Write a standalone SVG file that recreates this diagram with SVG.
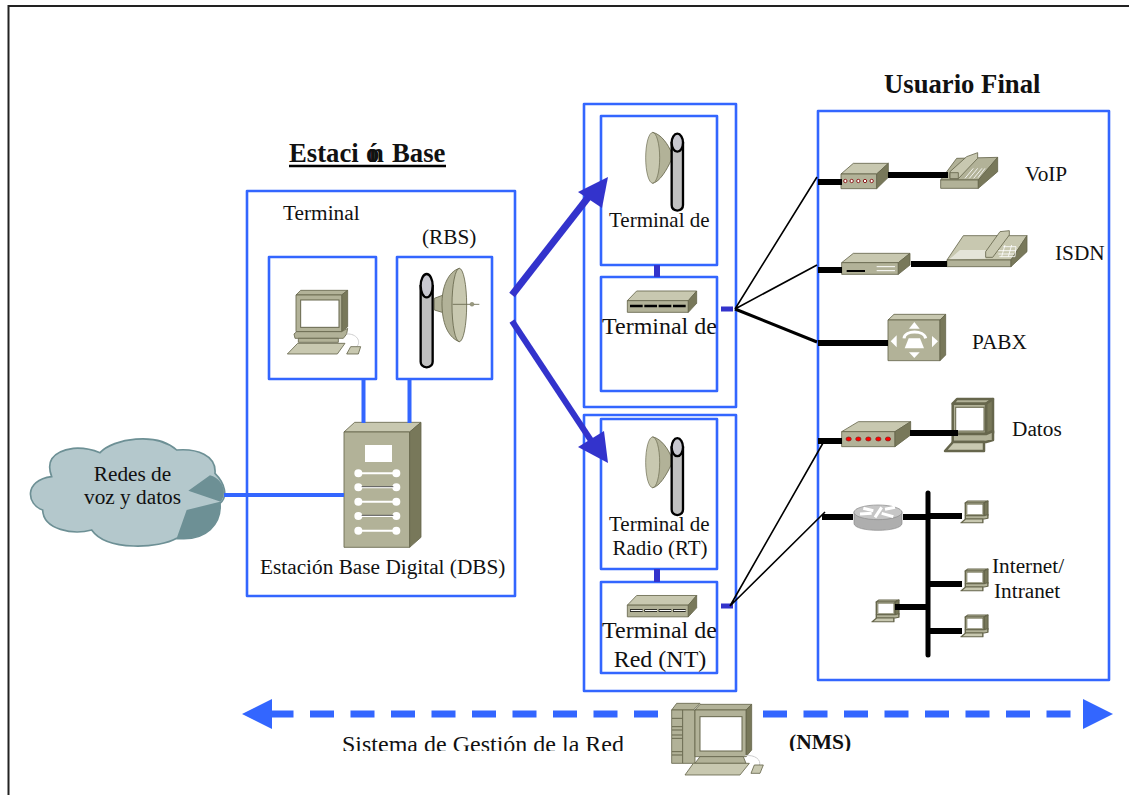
<svg xmlns="http://www.w3.org/2000/svg" xmlns:xlink="http://www.w3.org/1999/xlink" width="1129" height="795" viewBox="0 0 1129 795">
<style>
text{font-family:"Liberation Serif","Times New Roman",serif;fill:#111;font-size:21.3px}
.b{font-weight:bold}
.box{fill:#fff;stroke:#3366ff;stroke-width:2.6;stroke-linejoin:round}
.blue{stroke:#3366ff;stroke-width:4;fill:none}
.ind{fill:#3333cc}
.k{stroke:#000;fill:none}
.lt{fill:#c8c8b0;stroke:#66664c;stroke-width:2.5;stroke-linejoin:round}
.md{fill:#b2b298;stroke:#66664c;stroke-width:2.5;stroke-linejoin:round}
.dk{fill:#78785a;stroke:#66664c;stroke-width:2.5;stroke-linejoin:round}
.wl{stroke:#fff;fill:none}
</style>
<defs>
<clipPath id="clipBottom"><rect x="300" y="725" width="570" height="26"/></clipPath>
<g id="rtAntenna">
<path class="md" d="M428,112 C455,118 475,150 484,172 L484,195 C470,225 450,260 428,265Z"/>
<ellipse cx="428" cy="188.500" rx="21" ry="76" fill="#c8c8b0" stroke="#66664c" stroke-width="2"/>
<path d="M428,113 C437,140 441,165 441,188 L428,188Z" fill="#a8a890" opacity="0"/>
<path d="M485,140 V330 Q485,345 502,347 Q519,345 519,330 V140" fill="#c0c0c0" stroke="#000" stroke-width="7"/>
<ellipse cx="502" cy="143" rx="17" ry="27" fill="#c8c8d0" stroke="#000" stroke-width="7"/>
</g>
<g id="mini">
<polygon class="md" points="7.7,4.7 12,0 48,0 41,4.7"/>
<polygon class="dk" points="41,4.7 48,0 48,34 41,38"/>
<rect class="md" x="7.7" y="4.7" width="33.3" height="30"/>
<rect x="10.7" y="8.3" width="28.300" height="23.700" fill="#fff" stroke="#66664c"/>
<polygon class="md" points="7.7,35 41,35 48,32 48,41 41,43 7.7,43"/>
<polygon class="lt" points="8,43 39,43 39,52 0,52"/>
</g>
</defs>
<rect width="1129" height="795" fill="#fff"/>
<path id="frame" d="M8.500,795 V6 H1129" fill="none" stroke="#222" stroke-width="2"/>

<g id="node-base-station"><rect class="box" x="247" y="191" width="268" height="405"/></g>
<g id="node-rt-group-1"><rect class="box" x="584" y="104" width="152" height="303"/></g>
<g id="node-rt-group-2"><rect class="box" x="584" y="415" width="152" height="276"/></g>
<g id="node-user-box"><rect class="box" x="818" y="111" width="291" height="569"/></g>

<g id="node-terminal"><rect class="box" x="269" y="257" width="107" height="122"/>
<g transform="scale(.33333) translate(0,390)">
<polygon class="md" points="888,495 902,481 1043,481 1025,495"/>
<polygon class="dk" points="1025,495 1043,481 1043,590 1025,605"/>
<rect class="md" x="888" y="495" width="137" height="110"/>
<rect x="902" y="510" width="115" height="82" fill="#fff" stroke="#66664c" stroke-width="3"/>
<polygon class="md" points="890,605 1025,605 1043,595 1040,612 1030,625 885,625 882,612"/>
<rect class="md" x="895" y="625" width="120" height="12"/>
<polygon class="lt" points="893,640 1035,640 1012,672 862,672"/>
<path d="M1040,612 C1070,610 1085,635 1070,650" fill="none" stroke="#ccc" stroke-width="3"/>
<polygon class="lt" points="1052,650 1082,650 1075,672 1040,672"/>
</g></g>

<g id="node-rbs"><rect class="box" x="397" y="257" width="95" height="122"/>
<g transform="scale(.33333) translate(0,390)">
<path d="M1262,465 V695 Q1262,710 1280,712 Q1298,710 1298,695 V465" fill="#c0c0c0" stroke="#000" stroke-width="7"/>
<ellipse cx="1280" cy="467" rx="18" ry="35" fill="#c8c8d0" stroke="#000" stroke-width="7"/>
<polygon class="md" points="1303,505 1330,495 1330,548 1303,540"/>
<path class="md" d="M1378,415 C1345,425 1325,470 1326,525 C1327,590 1350,625 1378,635 Z"/>
<ellipse cx="1378" cy="525" rx="22" ry="110" fill="#c8c8b0" stroke="#66664c" stroke-width="2.500"/>
<path d="M1358,523 H1438" stroke="#66664c" stroke-width="2.500"/>
<circle cx="1416" cy="523" r="6" fill="#9a9a80" stroke="#66664c"/>
</g></g>

<g id="node-dbs" transform="scale(.33333) translate(0,390)">
<polygon class="lt" points="1032,906 1064,877 1263,877 1229,906"/>
<rect class="md" x="1032" y="906" width="197" height="346"/>
<polygon class="dk" points="1229,906 1263,877 1263,1222 1229,1252"/>
<rect x="1095" y="945" width="81" height="51" fill="#fff"/>
<g stroke="#fff" stroke-width="6" fill="#fff">
<path d="M1075,1030 H1190"/><path d="M1075,1072 H1190"/><path d="M1075,1115 H1190"/><path d="M1075,1158 H1190"/><path d="M1075,1202 H1190"/>
<circle cx="1075" cy="1030" r="9"/><circle cx="1189" cy="1030" r="9"/>
<circle cx="1075" cy="1072" r="9"/><circle cx="1189" cy="1072" r="9"/>
<circle cx="1075" cy="1115" r="9"/><circle cx="1189" cy="1115" r="9"/>
<circle cx="1075" cy="1158" r="9"/><circle cx="1189" cy="1158" r="9"/>
<circle cx="1075" cy="1202" r="9"/><circle cx="1189" cy="1202" r="9"/>
</g>
<path d="M1085,1070 H1180 M1085,1156 H1180" stroke="#333" stroke-width="2.500"/>
</g>

<g id="node-cloud" transform="scale(.33333) translate(0,390)">
<path fill="#b4c8cc" stroke="#6d9095" stroke-width="5" d="M155,1040 C140,1000 150,965 220,955 C255,952 280,960 300,968 C340,925 470,905 530,960 C590,955 650,975 645,1030 C675,1060 685,1100 660,1120 C665,1180 620,1235 530,1225 C480,1255 320,1265 275,1200 C220,1215 130,1200 128,1140 C80,1125 70,1050 155,1040Z"/>
<path fill="#6d9095" d="M565,1082 L630,1036 C665,1045 685,1085 662,1115Z M560,1140 L660,1115 C665,1180 620,1235 530,1225Z"/>
</g>

<g id="node-rt1">
<rect class="box" x="601" y="116" width="116" height="149"/>
<use xlink:href="#rtAntenna" href="#rtAntenna" transform="translate(510,95) scale(.33333)"/>
</g>
<g id="node-nt1">
<rect class="box" x="601" y="277" width="116" height="114"/>
<g transform="translate(510,95) scale(.33333)">
<polygon class="lt" points="352,617 380,588 560,588 535,617"/>
<rect class="md" x="352" y="617" width="183" height="35"/>
<polygon class="dk" points="535,617 560,588 560,625 535,652"/>
<path d="M360,633 H530" stroke="#000" stroke-width="7" stroke-dasharray="38 5"/>
</g></g>
<g id="node-rt2">
<rect class="box" x="601" y="419" width="116" height="150"/>
<use xlink:href="#rtAntenna" href="#rtAntenna" transform="translate(510,399.500) scale(.33333)"/>
</g>
<g id="node-nt2">
<rect class="box" x="601" y="582" width="116" height="91"/>
<g transform="translate(510,399.500) scale(.33333)">
<polygon class="lt" points="352,617 380,588 560,588 535,617"/>
<rect class="md" x="352" y="617" width="183" height="35"/>
<polygon class="dk" points="535,617 560,588 560,625 535,652"/>
<path d="M360,633 H530" stroke="#000" stroke-width="7" stroke-dasharray="38 5"/>
<path d="M362,633 H530" stroke="#fff" stroke-width="3" stroke-dasharray="36 7"/>
</g></g>

<g id="node-voip" transform="translate(810,100) scale(.33333)">
<polygon class="lt" points="93,222 130,190 235,190 200,222"/>
<rect class="md" x="93" y="222" width="107" height="44"/>
<polygon class="dk" points="200,222 235,190 235,232 200,266"/>
<g fill="#fff" stroke="#8b1a1a" stroke-width="3"><circle cx="106" cy="243" r="5"/><circle cx="125" cy="243" r="5"/><circle cx="145" cy="243" r="5"/><circle cx="165" cy="243" r="5"/><circle cx="185" cy="243" r="5"/></g>
<polygon class="md" points="392,240 440,175 563,172 505,240"/>
<rect class="md" x="392" y="240" width="113" height="25"/>
<polygon class="dk" points="505,240 563,172 563,215 505,265"/>
<polygon class="lt" points="420,236 420,215 470,170 503,158 503,175 445,236"/>
<rect class="md" x="420" y="218" width="25" height="18"/>
<path class="wl" stroke-width="2.500" d="M465,235 L490,205 M478,235 L503,205 M491,235 L516,205 M504,233 L525,205"/>
</g>

<g id="node-isdn" transform="translate(810,100) scale(.33333)">
<polygon class="lt" points="95,488 130,460 300,460 265,488"/>
<rect class="md" x="95" y="488" width="170" height="35"/>
<polygon class="dk" points="265,488 300,460 300,495 265,523"/>
<path d="M110,513 H165" stroke="#000" stroke-width="6"/>
<path class="wl" stroke-width="3" d="M200,500 H255 M200,512 H255"/>
<polygon class="lt" points="411,480 460,407 651,407 603,480"/>
<polygon fill="#e4e4d8" points="418,478 450,450 527,450 527,476"/>
<rect class="md" x="411" y="480" width="192" height="20"/>
<polygon class="dk" points="603,480 651,407 651,455 603,500"/>
<polygon class="lt" points="527,472 527,455 570,395 598,392 598,405 548,472"/>
<path class="wl" stroke-width="2.500" d="M568,470 L615,470 L618,440 L580,440 M585,435 L575,470 M605,435 L595,470 M565,452 L618,452 M565,462 L612,462"/>
</g>

<g id="node-pabx" transform="translate(810,100) scale(.33333)">
<polygon class="lt" points="234,660 252,643 407,643 390,660"/>
<rect class="md" x="234" y="660" width="156" height="122"/>
<polygon class="dk" points="390,660 407,643 407,765 390,782"/>
<g fill="#fff"><polygon points="313,666 297,686 329,686"/><polygon points="313,774 297,757 329,757"/><polygon points="242,724 260,706 260,742"/><polygon points="384,724 366,708 366,742"/>
<path d="M296,715 L330,715 L342,745 L284,745Z"/></g>
<path d="M282,715 C285,690 342,690 347,715" fill="none" stroke="#fff" stroke-width="9"/>
</g>

<g id="node-datos" transform="translate(810,380) scale(.33333)">
<polygon class="lt" points="95,155 145,125 302,125 255,155"/>
<rect class="md" x="95" y="155" width="160" height="45"/>
<polygon class="dk" points="255,155 302,125 302,165 255,200"/>
<g fill="#f00" stroke="#7a1a1a" stroke-width="2"><ellipse cx="116" cy="177" rx="8" ry="6"/><ellipse cx="145" cy="177" rx="8" ry="6"/><ellipse cx="175" cy="177" rx="8" ry="6"/><ellipse cx="205" cy="177" rx="8" ry="6"/><ellipse cx="234" cy="177" rx="8" ry="6"/></g>
</g>
<g id="node-datos-pc" transform="translate(945,399)"><use xlink:href="#mini" href="#mini"/></g>

<g id="node-router" transform="translate(810,380) scale(.33333)">
<path d="M132,395 V430 C132,458 276,458 276,430 V395Z" fill="#aeaeae" stroke="#888" stroke-width="2"/>
<ellipse cx="204" cy="397" rx="72" ry="22" fill="#c6c6c6" stroke="#888" stroke-width="2"/>
<path class="wl" stroke-width="9" d="M160,385 L190,392 M150,402 L185,400 M215,400 L250,410 M225,388 L255,382 M195,412 L215,382"/>
</g>
<g id="node-pc-a"><use xlink:href="#mini" href="#mini" transform="translate(961,501) scale(.56,.42)"/></g>
<g id="node-pc-b"><use xlink:href="#mini" href="#mini" transform="translate(961,569) scale(.56,.42)"/></g>
<g id="node-pc-c"><use xlink:href="#mini" href="#mini" transform="translate(961,615) scale(.56,.42)"/></g>
<g id="node-pc-d"><use xlink:href="#mini" href="#mini" transform="translate(872,600) scale(.56,.42)"/></g>

<g id="node-nms" transform="translate(660,695) scale(.33333)">
<polygon class="md" points="35,45 50,25 120,25 100,45"/>
<rect class="md" x="35" y="45" width="33" height="160"/>
<rect class="md" x="68" y="45" width="37" height="160"/>
<path d="M36,70 H67 M36,95 H67 M36,105 H67 M36,120 H67 M36,130 H67 M36,170 H67 M36,180 H67" stroke="#66664c" stroke-width="3"/>
<polygon class="md" points="105,45 120,28 275,28 258,45"/>
<polygon class="dk" points="258,45 275,28 275,165 258,185"/>
<rect class="md" x="105" y="45" width="153" height="140"/>
<rect x="120" y="65" width="126" height="103" fill="#fff" stroke="#66664c" stroke-width="3"/>
<polygon class="md" points="120,185 250,185 258,205 105,205"/>
<polygon class="lt" points="100,205 268,205 240,240 75,240"/>
<path d="M255,182 C285,178 305,195 298,212" fill="none" stroke="#ccc" stroke-width="3"/>
<polygon class="lt" points="283,210 310,210 300,235 273,235"/>
</g>

<g id="connectors">
<path class="blue" d="M224,495 H344 M363.500,379 V423 M409.500,379 V423"/>
<path class="ind" d="M654,265 h6 v12 h-6z M654,569 h6 v13 h-6z M721,306.500 h12 v5 h-12z M721,603.500 h12 v5 h-12z"/>
<g stroke="#3333cc" fill="none"><path d="M512,295 L590,195" stroke-width="7"/><path d="M512,321 L592,442" stroke-width="6"/></g>
<polygon class="ind" points="608,177 578,192 602,208"/>
<polygon class="ind" points="608,463 604,431 578,447"/>
<g class="k" stroke-width="1.600"><path d="M735,309 L817,177 M735,309 L817,265 M730,606 L823,443 M730,606 L825,512"/></g>
<path class="k" stroke-width="3" d="M735,309 L817,342"/>
<path class="k" stroke-width="6" d="M818,182 H842 M888,175 H948 M818,270 H842 M911,264 H947 M818,343 H888 M818,441 H842 M910,433 H958 M822,517 H853 M903,517 H928 M928,516 H962 M928,584 H962 M928,631 H962 M895,607 H928"/>
<path d="M928,493 V655" stroke="#000" stroke-width="5" stroke-linecap="round" fill="none"/>
<g fill="none" stroke="#3366ff" stroke-width="7">
<path d="M658,714 H272" stroke-dasharray="24 16.500"/>
<path d="M763,714 H1083" stroke-dasharray="24 16.500"/>
</g>
<polygon fill="#3366ff" points="242,714 272,699 272,729"/>
<polygon fill="#3366ff" points="1113,714 1083,699 1083,729"/>
</g>

<g id="labels">
<text x="884" y="93" class="b" style="font-size:26.7px">Usuario Final</text>
<text class="b" y="162" style="font-size:26.7px"><tspan x="289">Estaci</tspan><tspan x="366">ó</tspan><tspan x="369">n </tspan><tspan x="392">Base</tspan></text>
<path d="M289,166 H446" stroke="#000" stroke-width="2.500"/>
<text x="283" y="220">Terminal</text>
<text x="422" y="244">(RBS)</text>
<text x="260" y="574">Estación Base Digital (DBS)</text>
<text x="132.500" y="481" text-anchor="middle">Redes de</text>
<text x="132.500" y="504" text-anchor="middle">voz y datos</text>
<text x="609" y="227" style="font-size:21px">Terminal de</text>
<text x="602" y="334" style="font-size:24px">Terminal de</text>
<text x="609" y="531" style="font-size:21px">Terminal de</text>
<text x="660" y="555" text-anchor="middle" style="font-size:21px">Radio (RT)</text>
<text x="602" y="638" style="font-size:24px">Terminal de</text>
<text x="660" y="667" text-anchor="middle" style="font-size:24px">Red (NT)</text>
<text x="1025" y="181">VoIP</text>
<text x="1055" y="260">ISDN</text>
<text x="972" y="349">PABX</text>
<text x="1012" y="436">Datos</text>
<text x="992" y="573">Internet/</text>
<text x="994" y="598">Intranet</text>
<g clip-path="url(#clipBottom)">
<text x="342" y="752" style="font-size:24px">Sistema de Gestión de la Red</text>
<text x="789" y="749" class="b" style="font-size:21.5px">(NMS)</text>
</g>
</g>
</svg>
